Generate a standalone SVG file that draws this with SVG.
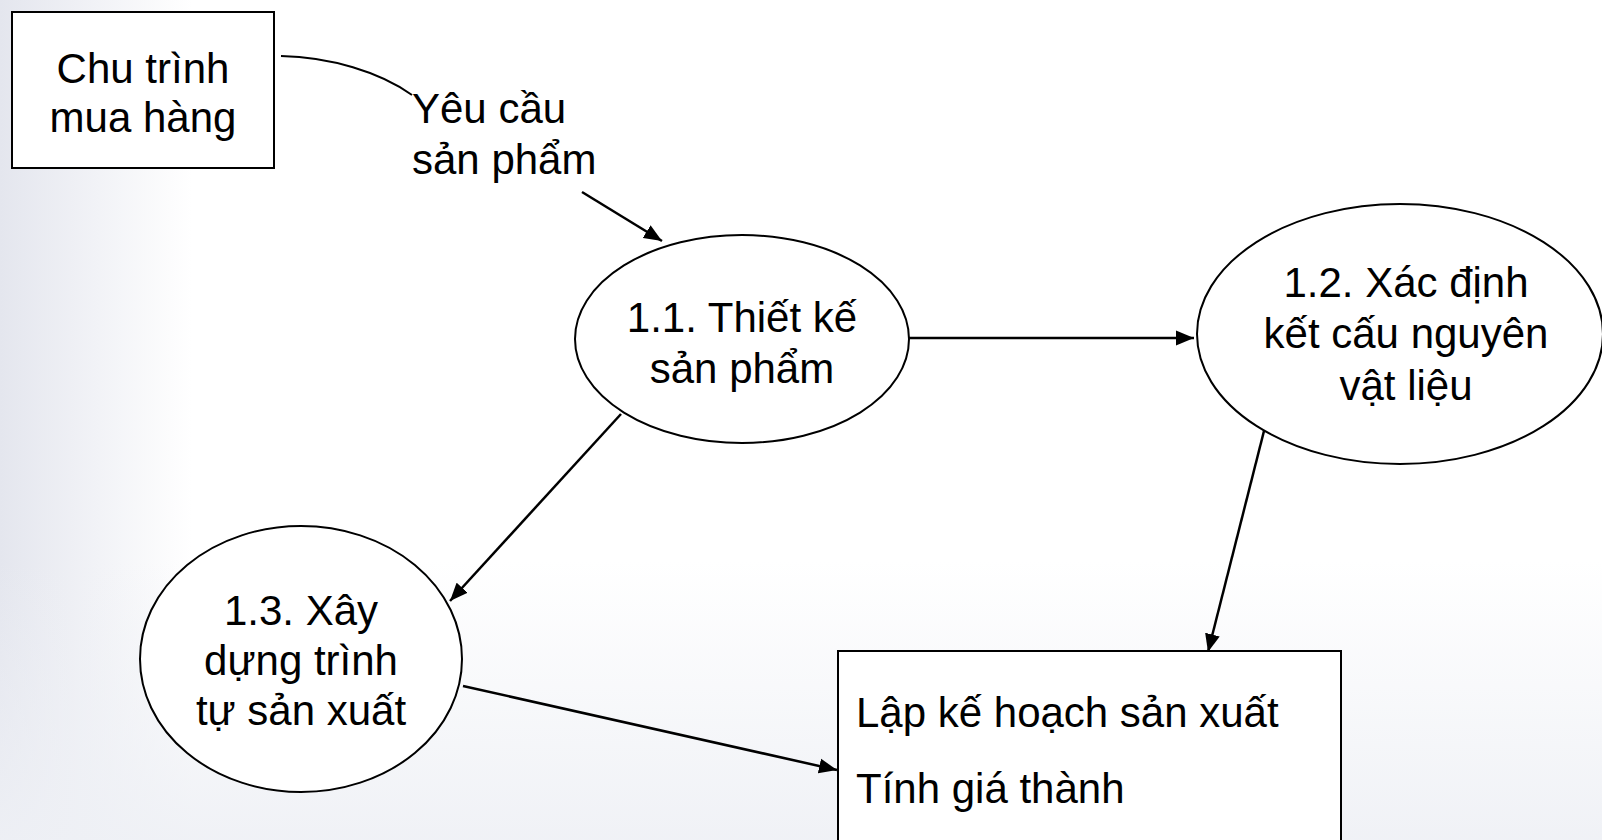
<svg xmlns="http://www.w3.org/2000/svg" width="1602" height="840" viewBox="0 0 1602 840">
<defs>
<linearGradient id="bgL" x1="0" y1="0" x2="1" y2="0">
<stop offset="0" stop-color="#e4e6ee"/>
<stop offset="0.12" stop-color="#ffffff"/>
<stop offset="1" stop-color="#ffffff"/>
</linearGradient>
<linearGradient id="bgB" x1="0" y1="0" x2="0" y2="1">
<stop offset="0" stop-color="#eef0f5" stop-opacity="0"/>
<stop offset="1" stop-color="#eef0f5" stop-opacity="0.9"/>
</linearGradient>
<marker id="arr" markerWidth="19" markerHeight="16" refX="18" refY="8" orient="auto" markerUnits="userSpaceOnUse">
<path d="M0,0.5 L18,8 L0,15.5 Z" fill="#000"/>
</marker>
<style>
.box{fill:#fff;stroke:#000;stroke-width:2}
.bub{fill:#fff;stroke:#000;stroke-width:2}
.t{font-family:"Liberation Sans",Arial,sans-serif;font-size:42px;fill:#000}
.c{text-anchor:middle}
.ln{fill:none;stroke:#000;stroke-width:2.5}
</style>
</defs>
<rect width="1602" height="840" fill="url(#bgL)"/>
<rect y="560" width="1602" height="280" fill="url(#bgB)"/>
<g id="connectors">
<path class="ln" d="M281,56 C330,57 380,72 412,95" style="stroke-width:2"/>
<line class="ln" x1="582" y1="192" x2="662" y2="241" marker-end="url(#arr)"/>
<line class="ln" x1="908" y1="338" x2="1194" y2="338" marker-end="url(#arr)"/>
<line class="ln" x1="621" y1="414" x2="450" y2="601" marker-end="url(#arr)"/>
<line class="ln" x1="1265" y1="427" x2="1208" y2="652" marker-end="url(#arr)"/>
<line class="ln" x1="463" y1="686" x2="837" y2="770" marker-end="url(#arr)"/>
</g>
<g id="chu-trinh">
<rect class="box" x="12" y="12" width="262" height="156"/>
<text class="t c" x="143" y="83">Chu trình</text>
<text class="t c" x="143" y="132">mua hàng</text>
</g>
<g id="yeu-cau-label">
<text class="t" x="412" y="123">Yêu cầu</text>
<text class="t" x="412" y="174">sản phẩm</text>
</g>
<g id="p11">
<ellipse class="bub" cx="742" cy="339" rx="167" ry="104"/>
<text class="t c" x="742" y="332">1.1. Thiết kế</text>
<text class="t c" x="742" y="383">sản phẩm</text>
</g>
<g id="p12">
<ellipse class="bub" cx="1400" cy="334" rx="203" ry="130"/>
<text class="t c" x="1406" y="297">1.2. Xác định</text>
<text class="t c" x="1406" y="348">kết cấu nguyên</text>
<text class="t c" x="1406" y="400">vật liệu</text>
</g>
<g id="p13">
<ellipse class="bub" cx="301" cy="659" rx="161" ry="133"/>
<text class="t c" x="301" y="625">1.3. Xây</text>
<text class="t c" x="301" y="675">dựng trình</text>
<text class="t c" x="301" y="725">tự sản xuất</text>
</g>
<g id="ke-hoach">
<rect class="box" x="838" y="651" width="503" height="200"/>
<text class="t" x="856" y="727">Lập kế hoạch sản xuất</text>
<text class="t" x="856" y="803">Tính giá thành</text>
</g>
</svg>
